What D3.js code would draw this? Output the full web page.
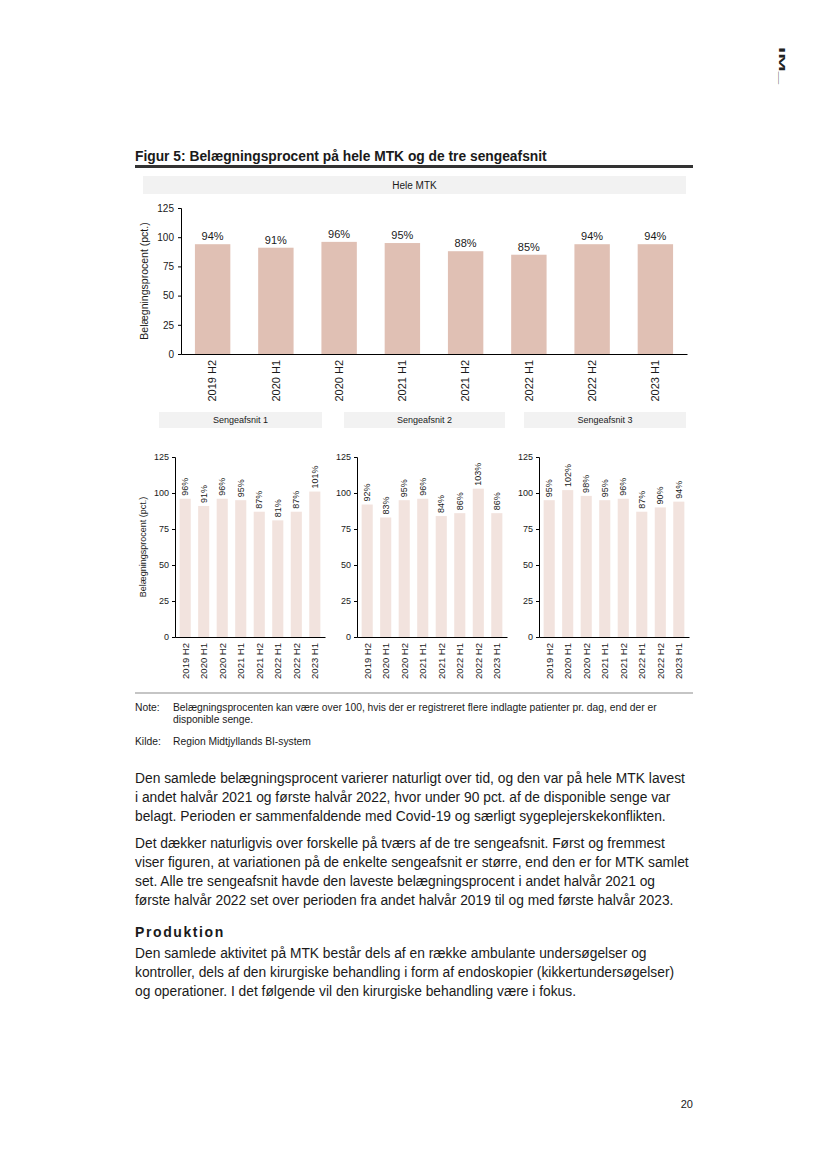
<!DOCTYPE html>
<html>
<head>
<meta charset="utf-8">
<script src="https://cdn.jsdelivr.net/npm/d3@7"></script>
<style>
  html, body { margin: 0; padding: 0; background: #fff; }
  svg { display: block; font-family: "Liberation Sans", Arial, sans-serif; }
</style>
</head>
<body>
<svg id="page" width="827" height="1169"></svg>
<script>
const categories = ["2019 H2", "2020 H1", "2020 H2", "2021 H1", "2021 H2", "2022 H1", "2022 H2", "2023 H1"];
const mtkValues = [94, 91, 96, 95, 88, 85, 94, 94];
const s1Values = [96, 91, 96, 95, 87, 81, 87, 101];
const s2Values = [92, 83, 95, 96, 84, 86, 103, 86];
const s3Values = [95, 102, 98, 95, 96, 87, 90, 94];
const yTicks = [0, 25, 50, 75, 100, 125];
const panelTitles = ["Sengeafsnit 1", "Sengeafsnit 2", "Sengeafsnit 3"];

const svg = d3.select("#page");
const ink = "#1a1a1a";

// Logo
svg.append("text")
  .attr("transform", "translate(778.5,47) rotate(90)")
  .attr("font-size", 9.5).attr("font-weight", "bold").attr("fill", "#222")
  .attr("textLength", 37).attr("lengthAdjust", "spacingAndGlyphs")
  .text("IM_");

// Title
svg.append("text").attr("x", 135).attr("y", 161)
  .attr("font-size", 13.8).attr("font-weight", "bold").attr("fill", ink)
  .text("Figur 5: Belægningsprocent på hele MTK og de tre sengeafsnit");
svg.append("rect").attr("x", 135).attr("y", 165).attr("width", 558).attr("height", 3).attr("fill", "#333");

// Header band helper
function band(x0, x1, y0, y1, label, fs) {
  svg.append("rect").attr("x", x0).attr("y", y0).attr("width", x1 - x0).attr("height", y1 - y0).attr("fill", "#f2f2f2");
  svg.append("text").attr("x", (x0 + x1) / 2).attr("y", (y0 + y1) / 2 + fs * 0.35)
    .attr("text-anchor", "middle").attr("font-size", fs).attr("fill", ink).text(label);
}

// Main chart
band(143, 686, 176, 194, "Hele MTK", 10);
const xMain = d3.scaleBand().domain(categories).range([181, 687]).paddingInner(0.44).paddingOuter(0.22);
const yMain = d3.scaleLinear().domain([0, 125]).range([354, 208]);
const gMain = svg.append("g");
gMain.selectAll("rect.bar").data(mtkValues).enter().append("rect")
  .attr("x", (d, i) => xMain(categories[i])).attr("width", xMain.bandwidth())
  .attr("y", d => yMain(d)).attr("height", d => yMain(0) - yMain(d))
  .attr("fill", "#e0c0b4");
gMain.selectAll("text.val").data(mtkValues).enter().append("text")
  .attr("x", (d, i) => xMain(categories[i]) + xMain.bandwidth() / 2)
  .attr("y", d => yMain(d) - 4)
  .attr("text-anchor", "middle").attr("font-size", 11).attr("fill", ink)
  .text(d => d + "%");
const yAxMain = gMain.append("g").attr("transform", "translate(181,0)")
  .call(d3.axisLeft(yMain).tickValues(yTicks).tickSize(3).tickPadding(4));
yAxMain.selectAll("text").attr("font-size", 10).attr("fill", ink).attr("font-family", "Liberation Sans, Arial");
yAxMain.selectAll("line,path").attr("stroke", "#000");
const xAxMain = gMain.append("g").attr("transform", "translate(0,354)")
  .call(d3.axisBottom(xMain).tickSize(0).tickPadding(0));
xAxMain.select("path").attr("stroke", "#000").attr("stroke-width", 1.2);
xAxMain.selectAll("text")
  .attr("font-size", 11).attr("fill", ink).attr("font-family", "Liberation Sans, Arial")
  .attr("text-anchor", "end").attr("dy", "0.35em")
  .attr("transform", "translate(0,6) rotate(-90)");
svg.append("text").attr("transform", "translate(148,281) rotate(-90)")
  .attr("text-anchor", "middle").attr("font-size", 10.5).attr("fill", ink)
  .text("Belægningsprocent (pct.)");

// Small multiples
const panelData = [s1Values, s2Values, s3Values];
const panelX = [175, 357, 539];
const bandX = [[159, 322], [344, 505], [524, 686]];
const ySmall = d3.scaleLinear().domain([0, 125]).range([637, 457]);
panelData.forEach((vals, p) => {
  band(bandX[p][0], bandX[p][1], 412, 428, panelTitles[p], 9);
  const x = d3.scaleBand().domain(categories).range([panelX[p], panelX[p] + 150]).paddingInner(0.4).paddingOuter(0.25);
  const g = svg.append("g");
  g.selectAll("rect").data(vals).enter().append("rect")
    .attr("x", (d, i) => x(categories[i])).attr("width", x.bandwidth())
    .attr("y", d => ySmall(d)).attr("height", d => ySmall(0) - ySmall(d))
    .attr("fill", "#f2e3de");
  g.selectAll("text.val").data(vals).enter().append("text")
    .attr("transform", (d, i) => `translate(${x(categories[i]) + x.bandwidth() / 2},${ySmall(d) - 3}) rotate(-90)`)
    .attr("dy", "0.35em").attr("text-anchor", "start").attr("font-size", 9).attr("fill", ink)
    .text(d => d + "%");
  const ya = g.append("g").attr("transform", `translate(${panelX[p]},0)`)
    .call(d3.axisLeft(ySmall).tickValues(yTicks).tickSize(3).tickPadding(3));
  ya.selectAll("text").attr("font-size", 9).attr("fill", ink).attr("font-family", "Liberation Sans, Arial");
  ya.selectAll("line,path").attr("stroke", "#000");
  const xa = g.append("g").attr("transform", "translate(0,637)")
    .call(d3.axisBottom(x).tickSize(0).tickPadding(0));
  xa.select("path").attr("stroke", "#000").attr("stroke-width", 1.2);
  xa.selectAll("text")
    .attr("font-size", 9.5).attr("fill", ink).attr("font-family", "Liberation Sans, Arial")
    .attr("text-anchor", "end").attr("dy", "0.35em")
    .attr("transform", "translate(0,6) rotate(-90)");
});
svg.append("text").attr("transform", "translate(146,547) rotate(-90)")
  .attr("text-anchor", "middle").attr("font-size", 9).attr("fill", ink)
  .text("Belægningsprocent (pct.)");

// Separator & notes
svg.append("rect").attr("x", 135).attr("y", 692.5).attr("width", 558).attr("height", 1).attr("fill", "#8c8c8c");
const noteFs = 10.3;
svg.append("text").attr("x", 135).attr("y", 711).attr("font-size", noteFs).attr("fill", ink).text("Note:");
svg.append("text").attr("x", 173).attr("y", 711).attr("font-size", noteFs).attr("fill", ink)
  .text("Belægningsprocenten kan være over 100, hvis der er registreret flere indlagte patienter pr. dag, end der er");
svg.append("text").attr("x", 173).attr("y", 723).attr("font-size", noteFs).attr("fill", ink).text("disponible senge.");
svg.append("text").attr("x", 135).attr("y", 745).attr("font-size", noteFs).attr("fill", ink).text("Kilde:");
svg.append("text").attr("x", 173).attr("y", 745).attr("font-size", noteFs).attr("fill", ink).text("Region Midtjyllands BI-system");

// Body text
const bodyLines = [
  [783, "Den samlede belægningsprocent varierer naturligt over tid, og den var på hele MTK lavest", false],
  [802, "i andet halvår 2021 og første halvår 2022, hvor under 90 pct. af de disponible senge var", false],
  [821, "belagt. Perioden er sammenfaldende med Covid-19 og særligt sygeplejerskekonflikten.", false],
  [848, "Det dækker naturligvis over forskelle på tværs af de tre sengeafsnit. Først og fremmest", false],
  [867, "viser figuren, at variationen på de enkelte sengeafsnit er større, end den er for MTK samlet", false],
  [886, "set. Alle tre sengeafsnit havde den laveste belægningsprocent i andet halvår 2021 og", false],
  [905, "første halvår 2022 set over perioden fra andet halvår 2019 til og med første halvår 2023.", false],
  [937, "Produktion", true],
  [958, "Den samlede aktivitet på MTK består dels af en række ambulante undersøgelser og", false],
  [977, "kontroller, dels af den kirurgiske behandling i form af endoskopier (kikkertundersøgelser)", false],
  [996, "og operationer. I det følgende vil den kirurgiske behandling være i fokus.", false]
];
bodyLines.forEach(([y, t, b]) => {
  svg.append("text").attr("x", 135).attr("y", y).attr("font-size", b ? 14 : 13.8)
    .attr("font-weight", b ? "bold" : "normal").attr("letter-spacing", b ? 1.6 : 0)
    .attr("fill", ink).text(t);
});

svg.append("text").attr("x", 693).attr("y", 1108).attr("text-anchor", "end").attr("font-size", 11).attr("fill", ink).text("20");
</script>
</body>
</html>
